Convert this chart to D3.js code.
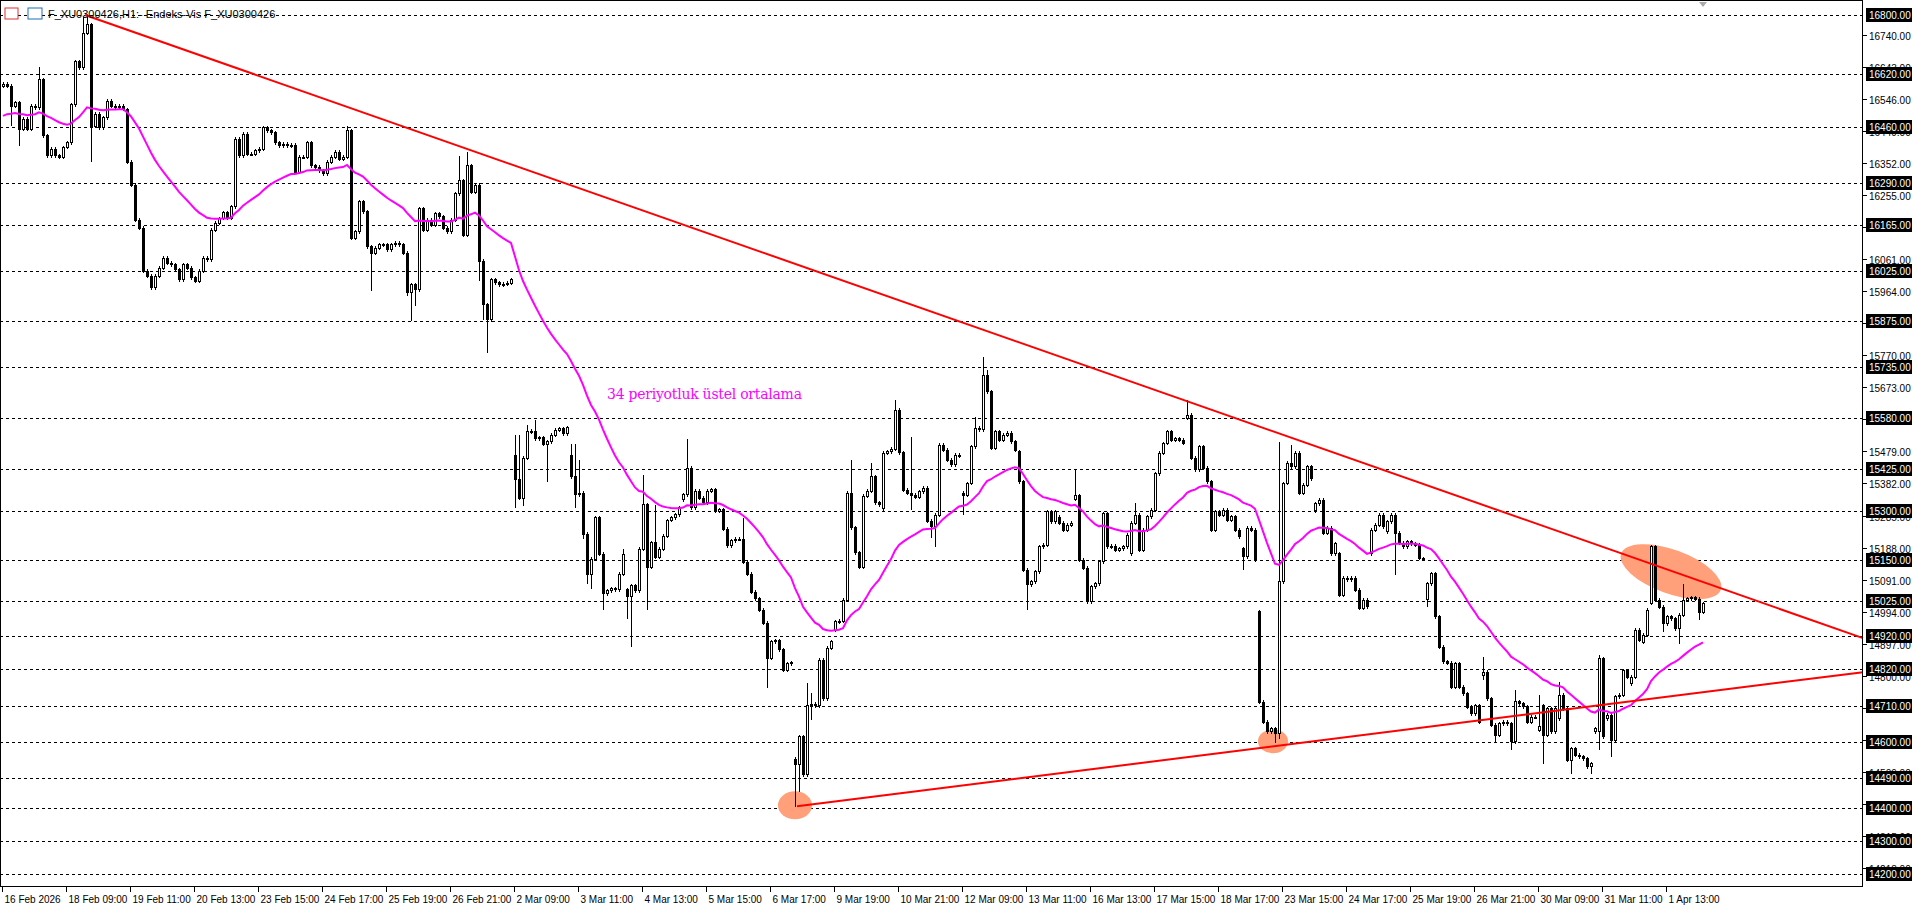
<!DOCTYPE html>
<html>
<head>
<meta charset="utf-8">
<script src="https://cdn.jsdelivr.net/npm/d3@7"></script>
<style>
  body { margin: 0; background: #fff; }
  svg { display: block; font-family: "Liberation Sans", Arial, sans-serif; }
</style>
</head>
<body>
<div id="chart"></div>
<script>
// kapanış fiyatları (H1)
const closes = [
16590,16585,16524,16534,16454,16484,16454,16524,16519,16604,16434,16374,16394,16374,16369,16399,16414,16529,16658,16640,
16744,16770,16464,16500,16459,16489,16539,16524,16519,16524,16514,16354,16284,16179,16154,16024,16009,15974,16009,16034,
16064,16049,16044,16029,15999,16044,16034,16004,15994,16024,16064,16059,16149,16169,16184,16202,16184,16219,16424,16374,
16439,16379,16379,16389,16394,16459,16449,16444,16414,16404,16409,16404,16406,16324,16369,16369,16414,16344,16339,16329,
16319,16354,16369,16384,16364,16369,16449,16124,16144,16234,16204,16099,16079,16094,16104,16104,16089,16104,16109,16104,
16079,15959,15983,15968,16214,16149,16179,16164,16199,16189,16154,16144,16179,16259,16299,16134,16344,16264,16284,16054,
15923,15878,15998,15990,15983,15985,15988,15998,15393,15338,15458,15538,15540,15518,15520,15500,15508,15528,15543,15548,
15533,15551,15403,15348,15353,15228,15108,15153,15278,15168,15048,15058,15063,15060,15108,15168,15040,15073,15058,15183,
15318,15128,15203,15158,15183,15223,15270,15278,15288,15308,15348,15428,15308,15358,15338,15323,15358,15363,15298,15303,
15243,15193,15208,15213,15213,15143,15108,15053,15033,14998,14959,14853,14903,14906,14878,14817,14837,14839,14530,14615,
14500,14711,14714,14709,14847,14731,14883,14903,14963,14965,15029,15353,15248,15173,15128,15343,15358,15403,15323,15318,
15473,15478,15485,15604,15475,15362,15352,15347,15340,15357,15367,15267,15251,15286,15498,15483,15453,15438,15468,15465,
15347,15382,15493,15549,15545,15710,15660,15488,15538,15513,15528,15534,15508,15483,15387,15120,15075,15085,15115,15190,
15195,15296,15266,15296,15261,15241,15256,15261,15345,15150,15125,15024,15069,15079,15145,15291,15190,15192,15180,15185,
15190,15226,15261,15286,15180,15241,15281,15301,15412,15473,15503,15539,15513,15518,15513,15503,15589,15458,15423,15493,
15428,15387,15241,15296,15286,15301,15271,15281,15241,15221,15160,15246,15241,15150,14720,14660,14630,14640,14625,15084,
15382,15443,15433,15473,15352,15377,15433,15397,15321,15332,15231,15246,15170,15200,15044,15095,15090,15095,15059,15004,
15029,15009,15241,15256,15286,15251,15266,15286,15231,15201,15190,15205,15200,15195,15155,15155,15079,15109,14978,14887,
14842,14838,14766,14837,14766,14746,14705,14685,14710,14660,14811,14731,14650,14620,14655,14660,14655,14600,14721,14716,
14706,14660,14675,14675,14645,14620,14700,14630,14700,14741,14700,14544,14579,14559,14555,14549,14524,14534,14640,14852,
14615,14680,14605,14736,14741,14816,14796,14796,14938,14907,14922,14998,15190,15028,15008,14958,14978,14973,14943,14983,
15028,15033,15036,15032,14993,15018
];

// boşluklu açılışlar: bar -> açılış
const gapOpens = {
  128: 15468, 142: 15468, 156: 15060, 170: 15333, 198: 14547, 208: 14938, 220: 15306, 240: 15352,
  254: 15478, 264: 15280, 268: 15335, 282: 15170, 296: 15579, 310: 15185, 314: 14994, 328: 15300,
  334: 15170, 342: 15170, 346: 15236, 356: 15030, 370: 14801, 384: 14635, 385: 14710, 389: 14670,
  398: 14630, 399: 14630, 401: 14670, 407: 14776, 410: 14902, 412: 15020
};

// belirgin fitiller: bar -> [yüksek, düşük]
const wicks = {
  2: [null, 16464], 4: [null, 16404], 9: [16644, null], 20: [16795, null], 21: [16800, null], 22: [null, 16354],
  86: [16464, null], 92: [null, 15964], 101: [null, 15950], 102: [null, 15873], 103: [null, 15918],
  114: [16374, null], 116: [16384, null], 119: [null, 15994], 120: [null, 15878], 121: [null, 15778],
  128: [15528, 15308], 129: [15528, 15333], 130: [null, 15313], 131: [15558, null], 133: [15573, null],
  136: [null, 15388], 142: [15503, null], 143: [15503, 15308], 144: [15453, null], 145: [null, 15213],
  146: [null, 15078], 147: [null, 15063], 150: [null, 14998], 155: [15183, null], 156: [null, 14973],
  157: [null, 14888], 160: [15408, null], 161: [null, 14998], 163: [15318, null], 171: [15518, null],
  185: [15278, null], 191: [null, 14762], 198: [null, 14403], 199: [null, 14449], 201: [14777, null],
  202: [14747, 14666], 212: [15453, null], 217: [15443, null], 223: [15634, null], 227: [15524, 15302],
  232: [null, 15216], 233: [null, 15191], 240: [null, 15286], 243: [15584, null], 245: [15766, null],
  246: [15725, null], 256: [null, 14998], 268: [15423, null], 283: [15322, null], 296: [15634, null],
  310: [null, 15120], 318: [null, 14595], 319: [15508, 14610], 322: [15498, null], 348: [null, 15105],
  356: [null, 15008], 370: [14857, 14786], 373: [null, 14600], 377: [null, 14574], 378: [14756, null],
  384: [14741, null], 385: [null, 14534], 389: [14781, null], 392: [null, 14504], 397: [null, 14504],
  399: [14862, 14574], 402: [null, 14554], 412: [15195, null], 413: [15195, null], 415: [null, 14933],
  419: [null, 14897], 420: [15079, null], 424: [null, 14968]
};

const emaSeed = 16489;
const emaPeriod = 34;

// yatay çizgiler (kullanıcı seviyeleri)
const levels = [16800,16620,16460,16290,16165,16025,15875,15735,15580,15425,15300,15150,15025,14920,14820,14710,14600,14490,14400,14300,14200];
// fiyat ölçeği işaretleri
const priceTicks = [16740,16643,16546,16449,16352,16255,16158,16061,15964,15867,15770,15673,15576,15479,15382,15285,15188,15091,14994,14897,14800,14703,14606,14509,14412,14315,14218];
const timeLabels = ["16 Feb 2026","18 Feb 09:00","19 Feb 11:00","20 Feb 13:00","23 Feb 15:00","24 Feb 17:00","25 Feb 19:00","26 Feb 21:00","2 Mar 09:00","3 Mar 11:00","4 Mar 13:00","5 Mar 15:00","6 Mar 17:00","9 Mar 19:00","10 Mar 21:00","12 Mar 09:00","13 Mar 11:00","16 Mar 13:00","17 Mar 15:00","18 Mar 17:00","23 Mar 15:00","24 Mar 17:00","25 Mar 19:00","26 Mar 21:00","30 Mar 09:00","31 Mar 11:00","1 Apr 13:00"];

// trend çizgileri [bar, fiyat]
const downTrend = [[20.5, 16800], [465, 14914]];
const upTrend = [[198.5, 14405], [465, 14811]];
// işaret elipsleri: bar, fiyat, rx, ry, açı
const marks = [[198, 14408, 17, 14, 0], [317.5, 14602, 15, 12, 0], [417, 15115, 53, 22, 20]];

const W = 1920, H = 923;
const plotR = 1862, plotB = 886;

const x = d3.scaleLinear().domain([0, 465]).range([3, 3 + 4 * 465]);
const y = d3.scaleLinear().domain([14200, 16800]).range([874, 15]);

const svg = d3.select("#chart").append("svg").attr("width", W).attr("height", H);
svg.append("rect").attr("width", W).attr("height", H).attr("fill", "#fff");

// seviyeler
svg.append("g").selectAll("line").data(levels).join("line")
  .attr("x1", 0).attr("x2", plotR)
  .attr("y1", d => Math.round(y(d)) + 0.5).attr("y2", d => Math.round(y(d)) + 0.5)
  .attr("stroke", "#000").attr("stroke-dasharray", "3,3");

// elipsler
marks.forEach(([b, p, rx, ry, a]) => {
  svg.append("ellipse")
    .attr("cx", x(b)).attr("cy", y(p)).attr("rx", rx).attr("ry", ry)
    .attr("transform", `rotate(${a},${x(b)},${y(p)})`)
    .attr("fill", "#ffa07a");
});

// mumlar
const bars = closes.map((c, i) => {
  const o = gapOpens[i] !== undefined ? gapOpens[i] : (i === 0 ? 16585 : closes[i - 1]);
  const w = wicks[i] || [];
  const hi = w[0] != null ? w[0] : Math.max(o, c) + 6;
  const lo = w[1] != null ? w[1] : Math.min(o, c) - 6;
  return { i, o, c, hi, lo };
});
const gC = svg.append("g").attr("shape-rendering", "crispEdges");
bars.forEach(b => {
  const cx = Math.round(x(b.i)) + 0.5;
  gC.append("line").attr("x1", cx).attr("x2", cx)
    .attr("y1", y(b.hi)).attr("y2", y(b.lo)).attr("stroke", "#000");
  const top = y(Math.max(b.o, b.c)), bot = y(Math.min(b.o, b.c));
  gC.append("rect").attr("x", cx - 1).attr("y", top)
    .attr("width", 2).attr("height", Math.max(1, bot - top))
    .attr("fill", b.c >= b.o ? "#fff" : "#000").attr("stroke", "#000");
});

// üstel ortalama
const k = 2 / (emaPeriod + 1);
let e = emaSeed;
const ema = closes.map(c => (e = e + k * (c - e)));
svg.append("path").datum(ema)
  .attr("d", d3.line().x((d, i) => x(i)).y(d => y(d)))
  .attr("fill", "none").attr("stroke", "#ff00ff").attr("stroke-width", 2);

// trend çizgileri
[downTrend, upTrend].forEach(t => {
  svg.append("line")
    .attr("x1", x(t[0][0])).attr("y1", y(t[0][1]))
    .attr("x2", x(t[1][0])).attr("y2", y(t[1][1]))
    .attr("stroke", "#ff0000").attr("stroke-width", 2);
});

svg.append("text").attr("x", 607).attr("y", 399)
  .attr("fill", "#ff00ff").attr("font-family", "DejaVu Serif, serif").attr("font-size", 14)
  .attr("textLength", 195)
  .text("34 periyotluk üstel ortalama");

// çerçeve
svg.append("rect").attr("x", 0.5).attr("y", 0.5).attr("width", plotR).attr("height", plotB)
  .attr("fill", "none").attr("stroke", "#000");

// fiyat ekseni
const gP = svg.append("g").attr("font-size", 10);
priceTicks.forEach(p => {
  const yy = Math.round(y(p)) + 0.5;
  gP.append("line").attr("x1", plotR).attr("x2", plotR + 5).attr("y1", yy).attr("y2", yy).attr("stroke", "#000");
  gP.append("text").attr("x", plotR + 7).attr("y", yy + 4).attr("fill", "#000").text(p.toFixed(2));
});
levels.forEach(p => {
  const yy = Math.round(y(p));
  gP.append("rect").attr("x", plotR + 4).attr("y", yy - 7).attr("width", 46).attr("height", 14).attr("fill", "#000");
  gP.append("text").attr("x", plotR + 7).attr("y", yy + 4).attr("fill", "#fff").text(p.toFixed(2));
});

// zaman ekseni
const gT = svg.append("g").attr("font-size", 10);
timeLabels.forEach((t, j) => {
  const xx = Math.round(x(j * 16)) - 0.5;
  gT.append("line").attr("x1", xx).attr("x2", xx).attr("y1", plotB).attr("y2", plotB + 6).attr("stroke", "#000");
  gT.append("text").attr("x", xx + 2).attr("y", plotB + 17).attr("fill", "#000").text(t);
});

// başlık
svg.append("rect").attr("x", 5).attr("y", 8).attr("width", 13).attr("height", 11).attr("fill", "#fff").attr("stroke", "#e03030");
svg.append("rect").attr("x", 28).attr("y", 8).attr("width", 14).attr("height", 11).attr("fill", "#fff").attr("stroke", "#1f6fb5");
svg.append("text").attr("x", 48).attr("y", 18).attr("font-size", 11).attr("fill", "#000")
  .text("F_XU0300426,H1:- Endeks-Vis F_XU0300426");
svg.append("path").attr("d", `M${x(425)-4},2 L${x(425)+4},2 L${x(425)},7 Z`).attr("fill", "#aaa");
</script>
</body>
</html>
